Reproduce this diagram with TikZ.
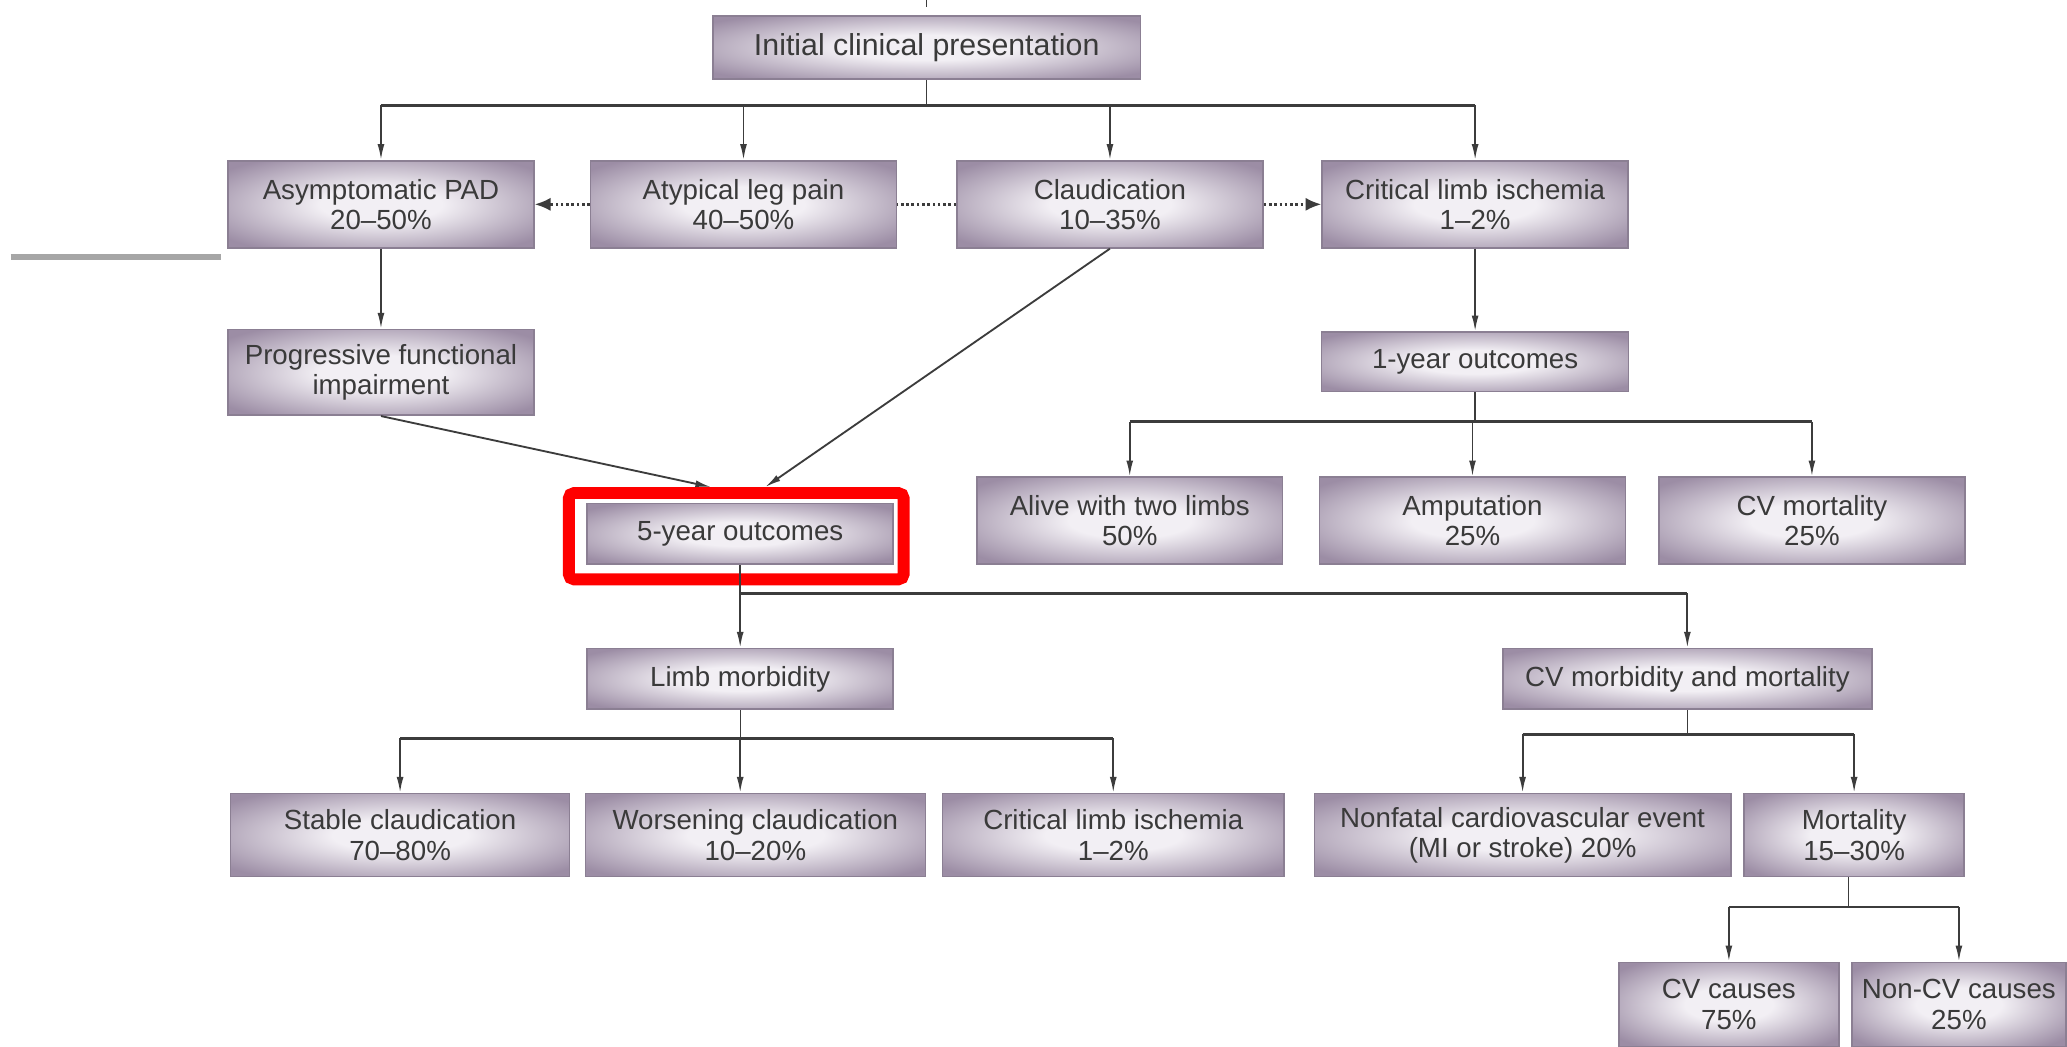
\documentclass[tikz,border=0pt]{standalone}
\usepackage{fontspec}
\setmainfont{Liberation Sans}
\usetikzlibrary{arrows.meta,calc,positioning}

\definecolor{boxpurple}{HTML}{9C8DA5}
\definecolor{boxlight}{HTML}{F2EFF4}
\definecolor{boxedge}{HTML}{8B7F93}
\definecolor{inkgray}{HTML}{3A3A3A}
\definecolor{wiregray}{HTML}{3C3C3C}
\definecolor{strayline}{HTML}{A6A6A6}

\pgfdeclareradialshading{boxglow}{\pgfpoint{0bp}{0bp}}{%
  color(0bp)=(boxlight); color(10bp)=(boxlight);
  color(32bp)=(boxpurple); color(50bp)=(boxpurple)}

\begin{document}
\begin{tikzpicture}[
    x=0.5pt, y=-0.5pt,
    box/.style={rectangle, draw=boxedge, line width=0.6pt, shading=boxglow, text=inkgray,
                align=center, inner sep=0pt, font=\fontsize{10.5}{11.5}\selectfont},
    wide/.style={box, minimum width=116pt, minimum height=33pt},
    slim/.style={box, minimum width=116pt, minimum height=23pt},
    low/.style={box, minimum height=31.5pt},
    link/.style={draw=wiregray, line width=0.5pt},
    bus/.style={draw=wiregray, line width=1.1pt},
    arrow/.style={draw=wiregray, line width=0.7pt, -{Latex[length=6pt,width=2.6pt]}},
    dotarrow/.style={draw=wiregray, line width=1pt, densely dotted, -{Latex[length=6pt,width=5pt]}},
    dotline/.style={draw=wiregray, line width=1pt, densely dotted},
    hilite/.style={rectangle, draw=red, line width=4.5pt, rounded corners=2pt,
                   minimum width=127pt, minimum height=32.75pt},
]
\fill[white] (0,0) rectangle (1568,794);
\useasboundingbox (0,0) rectangle (1568,794);

% ---- top: presentation and its four forms ----
\node[box, minimum width=162pt, minimum height=24pt, font=\fontsize{11.5}{12.5}\selectfont] (init) at (703,36) {Initial clinical presentation};
\coordinate (topin) at (703,0);
\draw[link] (topin) -- ++(0,5);

\node[wide] (asym)  at (289,155)  {Asymptomatic PAD\\20--50\%};
\node[wide] (atyp)  at (564,155)  {Atypical leg pain\\40--50\%};
\node[wide] (claud) at (842,155)  {Claudication\\10--35\%};
\node[wide] (cli)   at (1119,155) {Critical limb ischemia\\1--2\%};

\coordinate (bus1) at (703,80);
\draw[link] (init.south) -- (bus1);
\draw[bus] (asym.north |- bus1) -- (cli.north |- bus1);
\foreach \n in {asym,atyp,claud,cli}
  \draw[arrow] (\n.north |- bus1) -- (\n.north);

\draw[dotarrow] (atyp.west) -- (asym.east);
\draw[dotline] (claud.west) -- (atyp.east);
\draw[dotarrow] (claud.east) -- (cli.west);

% stray rule at the left margin
\draw[strayline, line width=2pt] (8,195) -- (168,195);

% ---- left branch ----
\node[box, minimum width=116pt, minimum height=32.5pt] (prog) at (289,282.5) {Progressive functional\\impairment};
\draw[arrow] (asym) -- (prog);

% ---- critical limb ischemia: 1-year ----
\node[box, minimum width=116.5pt, minimum height=22.5pt] (y1) at (1119,274.5) {1-year outcomes};
\draw[arrow] (cli) -- (y1);

\node[wide] (alive)  at (857,395)    {Alive with two limbs\\50\%};
\node[wide] (amp)    at (1117,395)   {Amputation\\25\%};
\node[wide] (cvmort) at (1374.5,395) {CV mortality\\25\%};

\coordinate (bus2) at (1119,320);
\draw[link] (y1.south) -- (bus2);
\draw[bus] (alive.north |- bus2) -- (cvmort.north |- bus2);
\foreach \n in {alive,amp,cvmort}
  \draw[arrow] (\n.north |- bus2) -- (\n.north);

% ---- 5-year outcomes ----
\node[slim] (y5) at (561.5,405) {5-year outcomes};
\node[hilite] (mark) at (558.5,406.75) {};
\draw[arrow] (prog.south) -- ($(mark.north)+(-19,0)$);
\draw[arrow] (claud.south) -- ($(mark.north)+(22,0)$);

\node[slim] (limb) at (561.5,515) {Limb morbidity};
\node[slim, minimum width=140pt] (cvmm) at (1280,515) {CV morbidity and mortality};

\coordinate (bus3) at (561.5,450);
\draw[arrow] (y5.south) -- (limb.north);
\draw[bus] (bus3) -- (bus3 -| cvmm.north);
\draw[arrow] (bus3 -| cvmm.north) -- (cvmm.north);

% ---- limb morbidity ----
\node[low, minimum width=128.5pt] (stab) at (303.5,633.5) {Stable claudication\\70--80\%};
\node[low, minimum width=129pt]   (wors) at (573,633.5)   {Worsening claudication\\10--20\%};
\node[low, minimum width=129.5pt] (cli5) at (844.5,633.5) {Critical limb ischemia\\1--2\%};

\coordinate (bus4) at (561.5,560);
\draw[link] (limb.south) -- (bus4);
\draw[bus] (bus4 -| stab.north) -- (bus4 -| cli5.north);
\draw[arrow] (bus4 -| stab.north) -- (stab.north);
\draw[arrow] (bus4) -- (bus4 |- wors.north);
\draw[arrow] (bus4 -| cli5.north) -- (cli5.north);

% ---- CV morbidity and mortality ----
\node[low, minimum width=158pt]  (nonf) at (1155,633.5)   {Nonfatal cardiovascular event\\(MI or stroke) 20\%};
\node[low, minimum width=83.5pt] (mort) at (1406.5,633.5) {Mortality\\15--30\%};

\coordinate (bus5) at (1280,557);
\draw[link] (cvmm.south) -- (bus5);
\draw[bus] (bus5 -| nonf.north) -- (bus5 -| mort.north);
\foreach \n in {nonf,mort}
  \draw[arrow] (bus5 -| \n.north) -- (\n.north);

\node[box, minimum width=83.5pt, minimum height=32pt] (cvc) at (1311.5,762) {CV causes\\75\%};
\node[box, minimum width=81pt, minimum height=32pt]   (ncv) at (1486,762)   {Non-CV causes\\25\%};

\coordinate (bus6) at (1402,688);
\draw[link] (mort.south -| bus6) -- (bus6);
\draw[bus] (bus6 -| cvc.north) -- (bus6 -| ncv.north);
\foreach \n in {cvc,ncv}
  \draw[arrow] (bus6 -| \n.north) -- (\n.north);

\end{tikzpicture}
\end{document}
